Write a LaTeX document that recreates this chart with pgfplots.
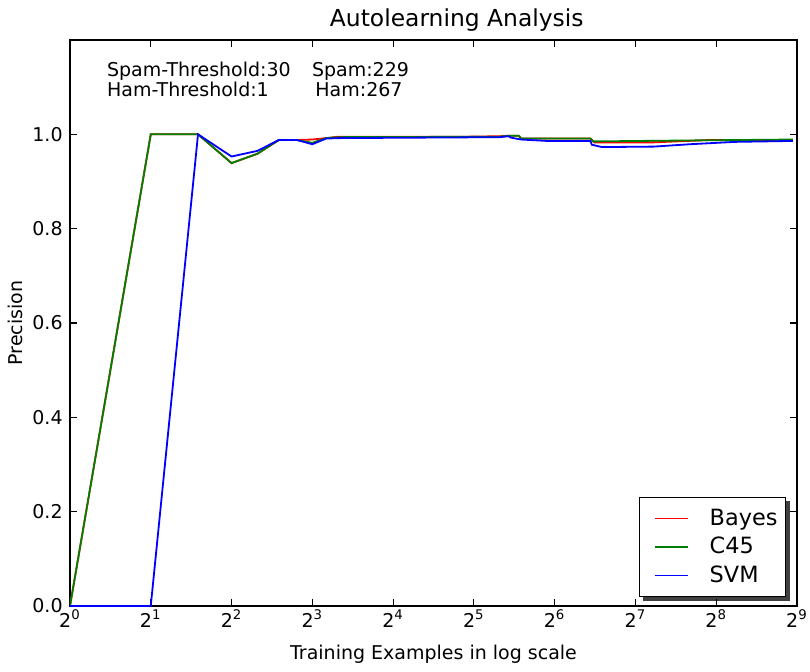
\documentclass[border=0pt]{standalone}
\usepackage{fontspec}
\setmainfont{DejaVu Sans}
\usepackage{pgfplots}
\pgfplotsset{compat=1.18}
\usetikzlibrary{backgrounds}
\definecolor{mplred}{rgb}{1,0,0}
\definecolor{mplgreen}{rgb}{0,0.5,0}
\definecolor{mplblue}{rgb}{0,0,1}
\begin{document}
\begin{tikzpicture}
\begin{axis}[
  scale only axis,
  width=363.5pt, height=283pt,
  xmode=log, log basis x=2,
  xmin=1, xmax=512, ymin=0, ymax=1.2,
  xtick={1,2,4,8,16,32,64,128,256,512},
  xticklabels={2\textsuperscript{0},2\textsuperscript{1},2\textsuperscript{2},2\textsuperscript{3},2\textsuperscript{4},2\textsuperscript{5},2\textsuperscript{6},2\textsuperscript{7},2\textsuperscript{8},2\textsuperscript{9}},
  xminorticks=false, yminorticks=false,
  ytick={0,0.2,0.4,0.6,0.8,1.0},
  yticklabel style={/pgf/number format/fixed, /pgf/number format/precision=1, /pgf/number format/fixed zerofill, inner sep=0pt, anchor=east, xshift=-3.5pt},
  /pgf/number format/assume math mode=true,
  xticklabel style={inner sep=0pt, anchor=base, yshift=-10.5pt},
  tick label style={font=\fontsize{9.5}{11}\selectfont},
  tick align=inside,
  major tick length=3.5pt,
  axis line style={line width=0.75pt},
  every tick/.style={black, line width=0.6pt},
  title={Autolearning Analysis},
  every axis title/.style={at={(axis description cs:0.532,1.023)}, anchor=base, font=\fontsize{11.7}{13}\selectfont},
  xlabel={Training Examples in log scale},
  xlabel style={at={(axis description cs:0.5,-0.0954)}, anchor=base, font=\fontsize{9.5}{11}\selectfont},
  ylabel={Precision},
  ylabel style={at={(axis description cs:-0.0647,0.5)}, anchor=base, rotate=0, font=\fontsize{9.5}{11}\selectfont},
  legend style={name=leg, at={(axis description cs:0.985,0.016)}, anchor=south east,
    font=\fontsize{11.2}{13}\selectfont, fill=white, line width=0.6pt,
    inner xsep=2pt, inner ysep=4pt, row sep=1.5pt,
    nodes={inner xsep=2pt, inner ysep=1.5pt},
    /tikz/every odd column/.append style={column sep=8.5pt},
    cells={anchor=west}},
  legend image code/.code={\path (0pt,0pt); \draw[#1, line width=0.6pt] (5.5pt,0pt) -- (22pt,0pt);},
  every axis plot/.append style={line width=0.9pt},
]
\addplot[mplred] coordinates {
(1,0) (2,1) (3,1) (4,0.939) (5,0.959) (6,0.988) (7,0.988) (8,0.989) (9,0.992)
(10,0.995) (20,0.995) (30,0.995) (40,0.996) (43,0.997) (47,0.997) (48,0.991)
(87,0.991) (90,0.983) (150,0.983) (243,0.988) (494,0.988)};
\addlegendentry{Bayes}
\addplot[mplgreen] coordinates {
(1,0) (2,1) (3,1) (4,0.939) (5,0.959) (6,0.988) (7,0.988) (8,0.982) (9,0.992)
(10,0.994) (40,0.995) (43,0.997) (47,0.997) (48,0.991) (87,0.991) (89,0.985)
(200,0.987) (494,0.989)};
\addlegendentry{C45}
\addplot[mplblue] coordinates {
(1,0) (2,0) (3,1) (4,0.953) (5,0.965) (6,0.988) (7,0.988) (8,0.979) (9,0.991)
(10,0.992) (40,0.994) (43,0.996) (44,0.993) (48,0.989) (60,0.986) (87,0.986)
(88,0.978) (96,0.973) (150,0.974) (204,0.979) (300,0.984) (494,0.986)};
\addlegendentry{SVM}
\node[anchor=base west, font=\fontsize{9.5}{11}\selectfont, inner sep=0pt] at (axis description cs:0.0505,0.936) {Spam-Threshold:30};
\node[anchor=base west, font=\fontsize{9.5}{11}\selectfont, inner sep=0pt] at (axis description cs:0.0505,0.900) {Ham-Threshold:1};
\node[anchor=base west, font=\fontsize{9.5}{11}\selectfont, inner sep=0pt] at (axis description cs:0.3324,0.936) {Spam:229};
\node[anchor=base west, font=\fontsize{9.5}{11}\selectfont, inner sep=0pt] at (axis description cs:0.3370,0.900) {Ham:267};
\end{axis}
\begin{pgfonlayer}{background}
\fill[black!75] ([shift={(2pt,-2pt)}]leg.south west) rectangle ([shift={(2pt,-2pt)}]leg.north east);
\end{pgfonlayer}
\pgfresetboundingbox
\path ([shift={(-35pt,-32.5pt)}]current axis.south west) rectangle ([shift={(6.5pt,20pt)}]current axis.north east);
\end{tikzpicture}
\end{document}
